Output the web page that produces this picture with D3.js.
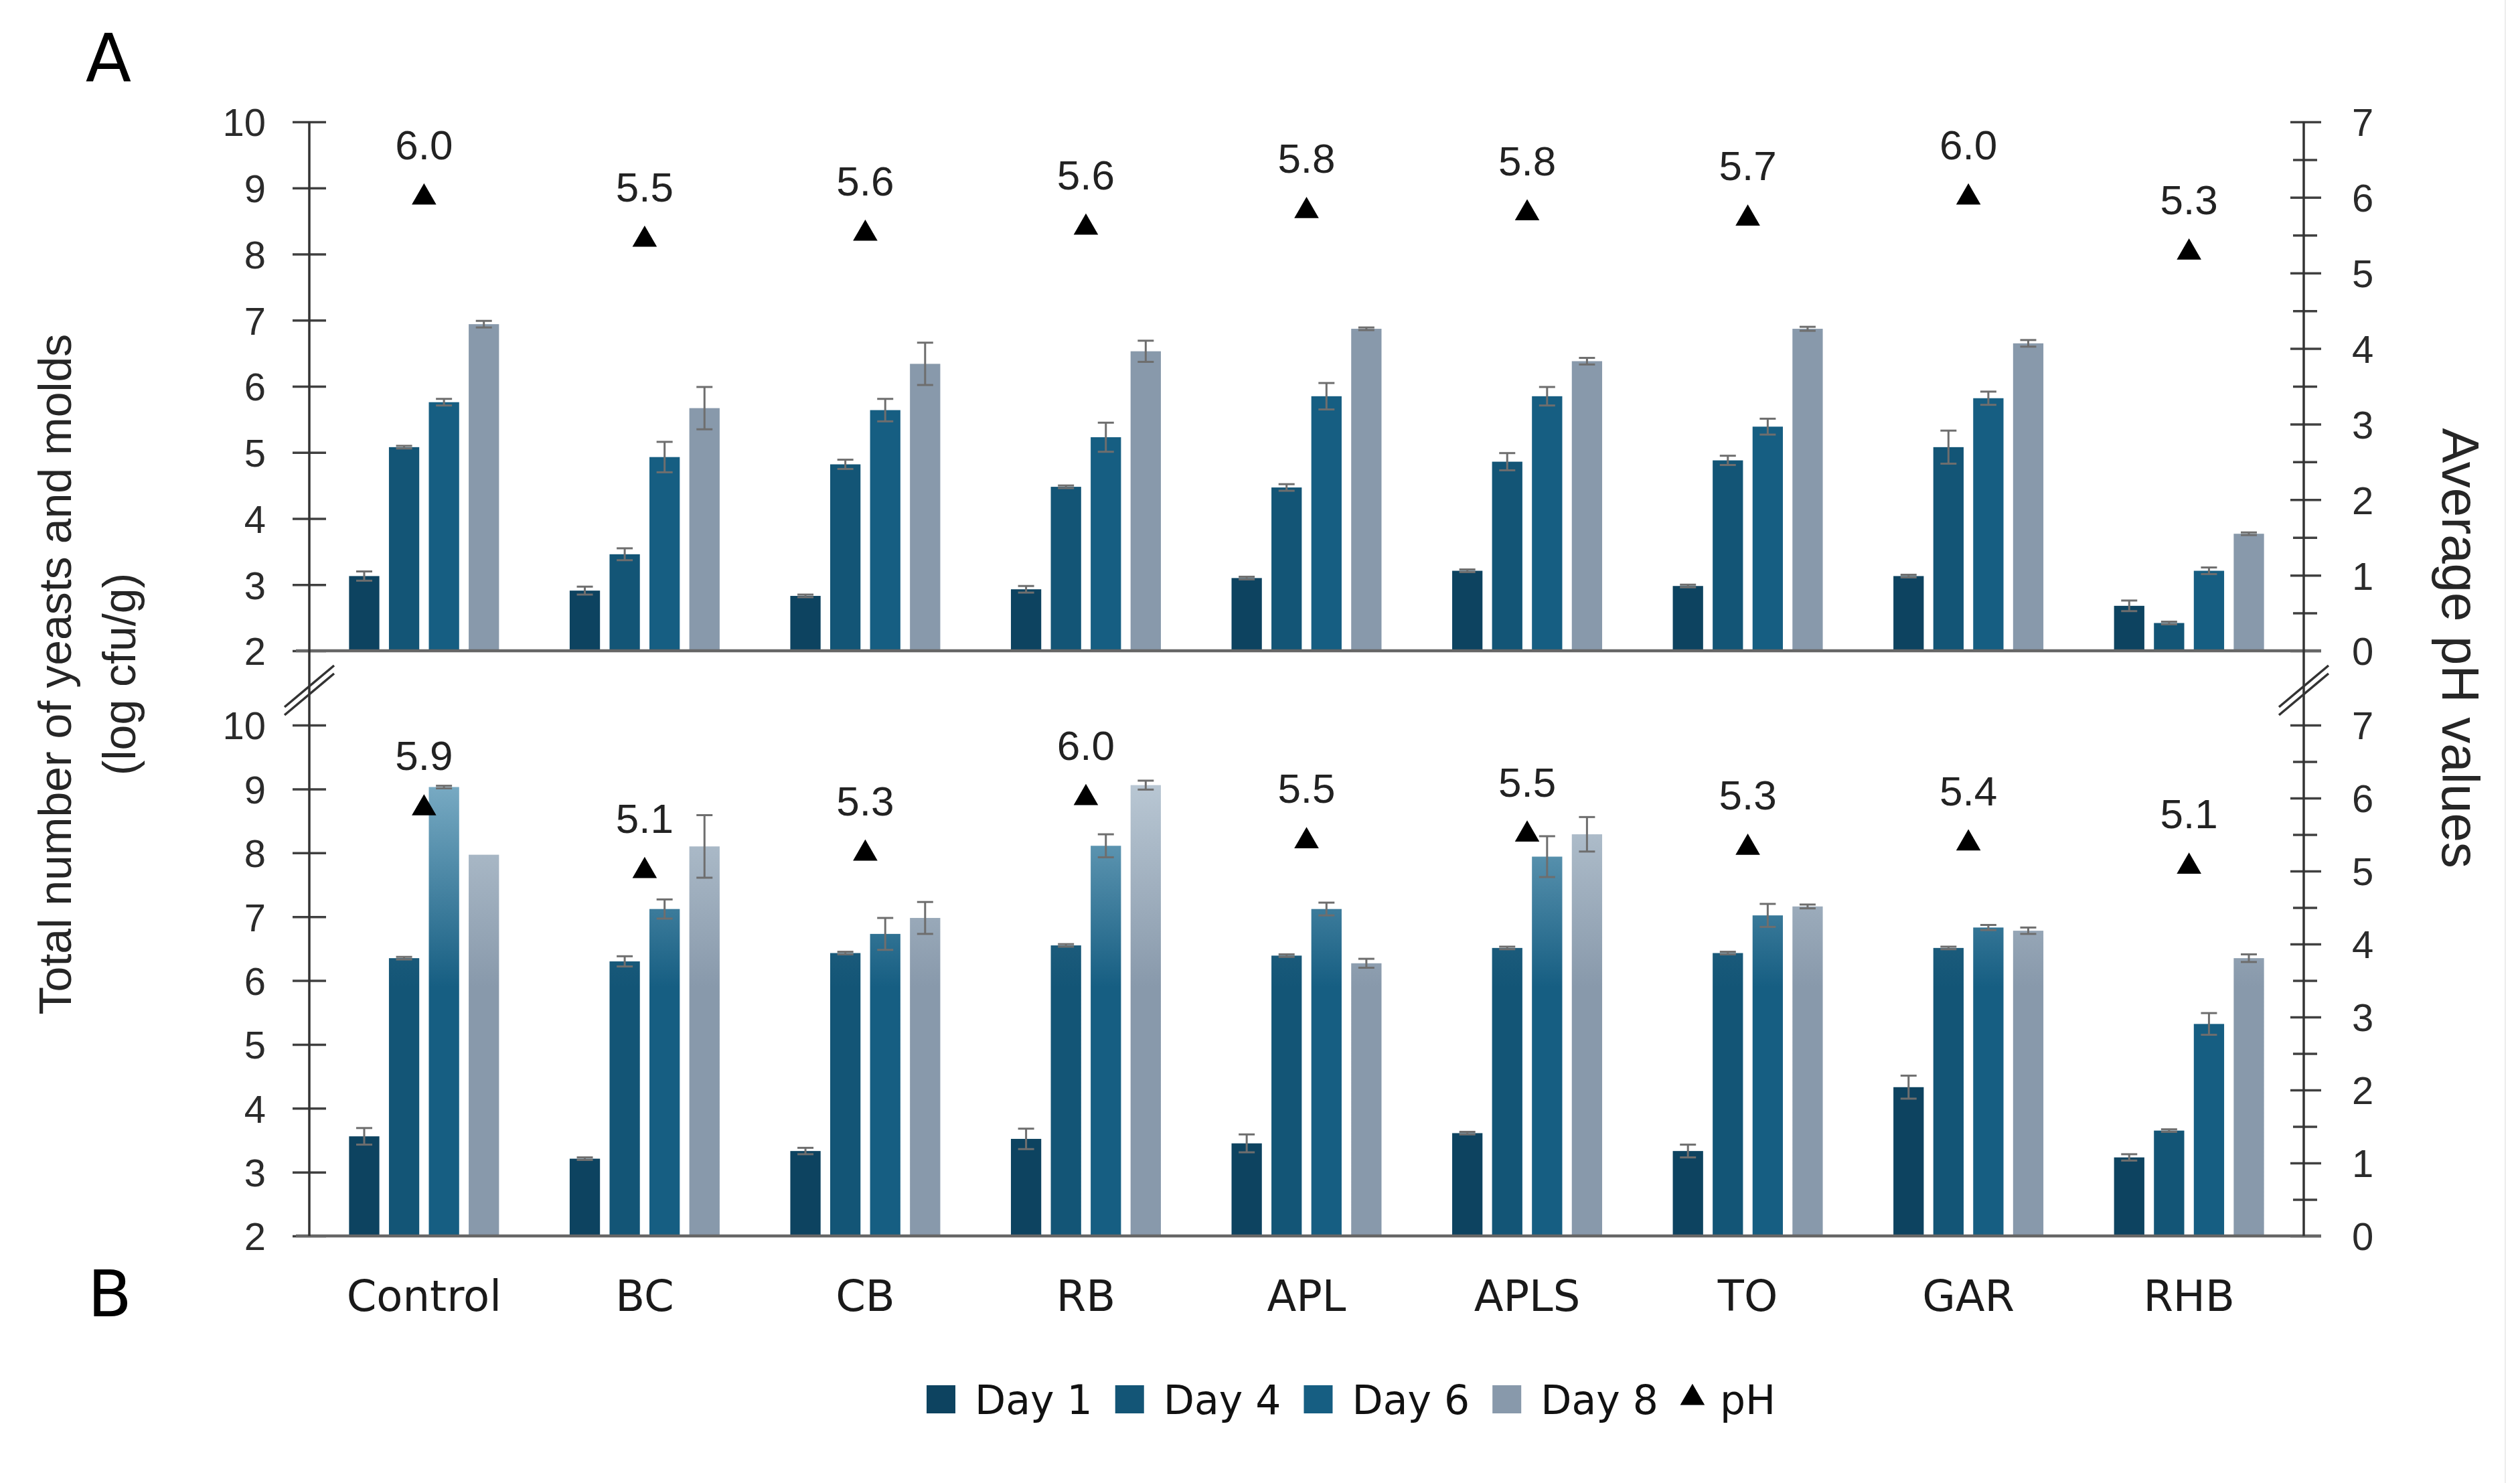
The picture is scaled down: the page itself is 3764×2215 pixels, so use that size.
<!DOCTYPE html>
<html>
<head>
<meta charset="utf-8">
<script src="https://cdn.jsdelivr.net/npm/d3@7"></script>
<style>
  body { margin: 0; background: #fff; }
</style>
</head>
<body>
<div id="chart"></div>
<script>
// treatments and sampling days
const categories = ["Control", "BC", "CB", "RB", "APL", "APLS", "TO", "GAR", "RHB"];
const days = ["Day 1", "Day 4", "Day 6", "Day 8"];

// panel A: log cfu/g and standard deviations
const aDay1 = [3.13, 2.91, 2.83, 2.93, 3.10, 3.21, 2.98, 3.13, 2.68];
const aDay4 = [5.08, 3.46, 4.82, 4.48, 4.47, 4.86, 4.88, 5.08, 2.42];
const aDay6 = [5.76, 4.93, 5.64, 5.23, 5.85, 5.85, 5.39, 5.82, 3.21];
const aDay8 = [6.94, 5.67, 6.34, 6.53, 6.87, 6.38, 6.87, 6.65, 3.77];
const aErr1 = [0.07, 0.06, 0.02, 0.05, 0.02, 0.02, 0.02, 0.02, 0.08];
const aErr4 = [0.02, 0.09, 0.07, 0.02, 0.05, 0.13, 0.07, 0.25, 0.02];
const aErr6 = [0.05, 0.23, 0.17, 0.22, 0.20, 0.14, 0.12, 0.10, 0.05];
const aErr8 = [0.05, 0.32, 0.32, 0.16, 0.02, 0.05, 0.03, 0.05, 0.02];
const aPh = [6.0, 5.44, 5.52, 5.6, 5.82, 5.79, 5.72, 6.0, 5.27];
const aPhLabels = ["6.0", "5.5", "5.6", "5.6", "5.8", "5.8", "5.7", "6.0", "5.3"];

// panel B
const bDay1 = [3.56, 3.21, 3.33, 3.52, 3.45, 3.61, 3.33, 4.33, 3.23];
const bDay4 = [6.35, 6.30, 6.43, 6.55, 6.39, 6.51, 6.43, 6.51, 3.65];
const bDay6 = [9.03, 7.12, 6.73, 8.11, 7.12, 7.94, 7.02, 6.83, 5.32];
const bDay8 = [7.97, 8.10, 6.98, 9.06, 6.27, 8.29, 7.16, 6.78, 6.35];
const bErr1 = [0.13, 0.02, 0.05, 0.16, 0.14, 0.02, 0.10, 0.18, 0.05];
const bErr4 = [0.02, 0.08, 0.02, 0.02, 0.02, 0.02, 0.02, 0.02, 0.02];
const bErr6 = [0.02, 0.15, 0.25, 0.18, 0.10, 0.32, 0.18, 0.04, 0.17];
const bErr8 = [0.00, 0.49, 0.25, 0.07, 0.07, 0.27, 0.03, 0.05, 0.06];
const bPh = [5.86, 5.0, 5.24, 6.0, 5.41, 5.5, 5.32, 5.38, 5.06];
const bPhLabels = ["5.9", "5.1", "5.3", "6.0", "5.5", "5.5", "5.3", "5.4", "5.1"];

const leftTicks = [2, 3, 4, 5, 6, 7, 8, 9, 10];
const rightTicks = [0, 0.5, 1, 1.5, 2, 2.5, 3, 3.5, 4, 4.5, 5, 5.5, 6, 6.5, 7];

const dayColors = ["#0d4360", "#135576", "#165e82", "#8899ab"];
const dayLight = ["#0d4360", "#3f7592", "#80b0c8", "#bccad6"];

const W = 3764, H = 2215;
const xLeft = 462, xRight = 3441;
const numFont = "'Liberation Sans', Arial, sans-serif";
const labelFont = "'DejaVu Sans', sans-serif";

const svg = d3.select("#chart").append("svg")
    .attr("width", W).attr("height", H)
    .style("background", "#fff");
const defs = svg.append("defs");

const x0 = d3.scaleBand().domain(categories).range([xLeft, xRight]).paddingOuter(0.02);
const x1 = d3.scaleBand().domain(days).range([-112, 112]).paddingInner(0.24);

const panels = [
    {top: 182, bottom: 972, series: [aDay1, aDay4, aDay6, aDay8], errs: [aErr1, aErr4, aErr6, aErr8],
     ph: aPh, phLabels: aPhLabels, shaded: false},
    {top: 1083, bottom: 1846, series: [bDay1, bDay4, bDay6, bDay8], errs: [bErr1, bErr4, bErr6, bErr8],
     ph: bPh, phLabels: bPhLabels, shaded: true}
];

const tri = d3.symbol().type(d3.symbolTriangle).size(580);

panels.forEach((p, pi) => {
    const y = d3.scaleLinear().domain([2, 10]).range([p.bottom, p.top]);
    const yPh = d3.scaleLinear().domain([0, 7]).range([p.bottom, p.top]);
    const g = svg.append("g").attr("class", "panel" + pi);

    // vertical gradients for panel B, fixed in chart space
    if (p.shaded) {
        days.forEach((d, di) => {
            if (di === 0) return;
            const lg = defs.append("linearGradient")
                .attr("id", "grad" + di)
                .attr("gradientUnits", "userSpaceOnUse")
                .attr("x1", 0).attr("x2", 0)
                .attr("y1", y(9.3)).attr("y2", y(5.9));
            lg.append("stop").attr("offset", 0).attr("stop-color", dayLight[di]);
            lg.append("stop").attr("offset", 1).attr("stop-color", dayColors[di]);
        });
    }

    const rows = [];
    categories.forEach((c, ci) => {
        days.forEach((d, di) => {
            rows.push({cat: c, day: d, di: di, v: p.series[di][ci], e: p.errs[di][ci]});
        });
    });
    const cx = d => x0(d.cat) + x0.bandwidth() / 2 + x1(d.day);

    g.selectAll(".bar").data(rows).join("rect")
        .attr("class", "bar")
        .attr("x", cx)
        .attr("width", x1.bandwidth())
        .attr("y", d => y(d.v))
        .attr("height", d => y(2) - y(d.v))
        .attr("fill", d => (p.shaded && d.di > 0) ? "url(#grad" + d.di + ")" : dayColors[d.di]);

    // error bars
    const eb = g.selectAll(".err").data(rows.filter(d => d.e > 0)).join("g").attr("class", "err")
        .attr("stroke", "#6e6e6e").attr("stroke-width", 3);
    const mid = d => cx(d) + x1.bandwidth() / 2;
    eb.append("line").attr("x1", mid).attr("x2", mid)
        .attr("y1", d => y(d.v - d.e)).attr("y2", d => y(d.v + d.e));
    eb.append("line").attr("x1", d => mid(d) - 12).attr("x2", d => mid(d) + 12)
        .attr("y1", d => y(d.v + d.e)).attr("y2", d => y(d.v + d.e));
    eb.append("line").attr("x1", d => mid(d) - 12).attr("x2", d => mid(d) + 12)
        .attr("y1", d => y(d.v - d.e)).attr("y2", d => y(d.v - d.e));

    // pH markers and labels
    const phRows = categories.map((c, ci) => ({cat: c, v: p.ph[ci], label: p.phLabels[ci]}));
    const gc = d => x0(d.cat) + x0.bandwidth() / 2;
    g.selectAll(".tri").data(phRows).join("path")
        .attr("class", "tri")
        .attr("d", tri)
        .attr("fill", "#000")
        .attr("transform", d => "translate(" + gc(d) + "," + yPh(d.v) + ")");
    g.selectAll(".phLabel").data(phRows).join("text")
        .attr("class", "phLabel")
        .attr("x", gc)
        .attr("y", d => yPh(d.v) - 57)
        .attr("text-anchor", "middle")
        .attr("font-family", numFont).attr("font-size", 62)
        .attr("fill", "#222")
        .text(d => d.label);

    // left axis ticks
    const la = g.append("g").attr("transform", "translate(" + xLeft + ",0)")
        .call(d3.axisLeft(y).tickValues(leftTicks).tickFormat(d3.format("d")));
    la.select(".domain").remove();
    la.selectAll(".tick line").attr("x1", -25).attr("x2", 25)
        .attr("stroke", "#404040").attr("stroke-width", 3.5);
    la.selectAll(".tick text").attr("x", -65).attr("dy", "0.36em")
        .attr("font-family", numFont).attr("font-size", 58).attr("fill", "#2b2b2b");

    // right axis ticks
    const ra = g.append("g").attr("transform", "translate(" + xRight + ",0)")
        .call(d3.axisRight(yPh).tickValues(rightTicks).tickFormat(d => Number.isInteger(d) ? d : ""));
    ra.select(".domain").remove();
    ra.selectAll(".tick line")
        .attr("x1", d => Number.isInteger(d) ? -20 : -16)
        .attr("x2", d => Number.isInteger(d) ? 26 : 20)
        .attr("stroke", "#404040").attr("stroke-width", 3.5);
    ra.selectAll(".tick text").attr("x", 72).attr("dy", "0.36em")
        .attr("text-anchor", "start")
        .attr("font-family", numFont).attr("font-size", 58).attr("fill", "#2b2b2b");

    // baseline
    g.append("line")
        .attr("x1", xLeft - 20).attr("x2", xRight + 26)
        .attr("y1", y(2)).attr("y2", y(2))
        .attr("stroke", "#666").attr("stroke-width", 4.5);
});

// continuous axis lines with break marks
const yTop = panels[0].top, yBot = panels[1].bottom;
[xLeft, xRight].forEach(xa => {
    svg.append("line").attr("x1", xa).attr("x2", xa).attr("y1", yTop).attr("y2", yBot)
        .attr("stroke", "#333").attr("stroke-width", 3.5);
    const yb = 1031;
    [-6, 6].forEach(off => {
        svg.append("line")
            .attr("x1", xa - 37).attr("y1", yb + 31 + off)
            .attr("x2", xa + 37).attr("y2", yb - 31 + off)
            .attr("stroke", "#333").attr("stroke-width", 3.5);
    });
});

// category labels
svg.append("g").selectAll("text").data(categories).join("text")
    .attr("x", d => x0(d) + x0.bandwidth() / 2)
    .attr("y", 1958)
    .attr("text-anchor", "middle")
    .attr("font-family", labelFont).attr("font-size", 64)
    .attr("fill", "#1a1a1a")
    .text(d => d);

// panel letters
svg.append("text").attr("x", 162).attr("y", 122).attr("text-anchor", "middle")
    .attr("font-family", labelFont).attr("font-size", 100).attr("fill", "#000").text("A");
svg.append("text").attr("x", 164).attr("y", 1966).attr("text-anchor", "middle")
    .attr("font-family", labelFont).attr("font-size", 96).attr("fill", "#000").text("B");

// axis titles
svg.append("text")
    .attr("transform", "translate(82,1007) rotate(-90)")
    .attr("dy", "0.36em").attr("text-anchor", "middle")
    .attr("font-family", numFont).attr("font-size", 68).attr("fill", "#262626")
    .text("Total number of yeasts and molds");
svg.append("text")
    .attr("transform", "translate(178,1007) rotate(-90)")
    .attr("dy", "0.36em").attr("text-anchor", "middle")
    .attr("font-family", numFont).attr("font-size", 68).attr("fill", "#262626")
    .text("(log cfu/g)");
svg.append("text")
    .attr("transform", "translate(3676,968) rotate(90)")
    .attr("dy", "0.36em").attr("text-anchor", "middle")
    .attr("font-family", numFont).attr("font-size", 78).attr("fill", "#262626")
    .text("Average pH values");

// legend
const legend = svg.append("g").attr("class", "legend");
let lx = 1384;
const ly = 2090;
days.forEach((d, di) => {
    legend.append("rect").attr("x", lx).attr("y", ly - 21).attr("width", 43).attr("height", 42)
        .attr("fill", dayColors[di]);
    const t = legend.append("text").attr("x", lx + 72).attr("y", ly).attr("dy", "0.36em")
        .attr("font-family", labelFont).attr("font-size", 60).attr("fill", "#111").text(d);
    lx = lx + 72 + t.node().getComputedTextLength() + 34;
});
legend.append("path").attr("d", tri).attr("fill", "#000")
    .attr("transform", "translate(" + (lx + 17) + "," + (ly - 2) + ")");
legend.append("text").attr("x", lx + 58).attr("y", ly).attr("dy", "0.36em")
    .attr("font-family", labelFont).attr("font-size", 60).attr("fill", "#111").text("pH");

// faint frame line on the right edge
svg.append("line").attr("x1", 3742).attr("x2", 3742).attr("y1", 0).attr("y2", H)
    .attr("stroke", "#ececec").attr("stroke-width", 2);
</script>
</body>
</html>
